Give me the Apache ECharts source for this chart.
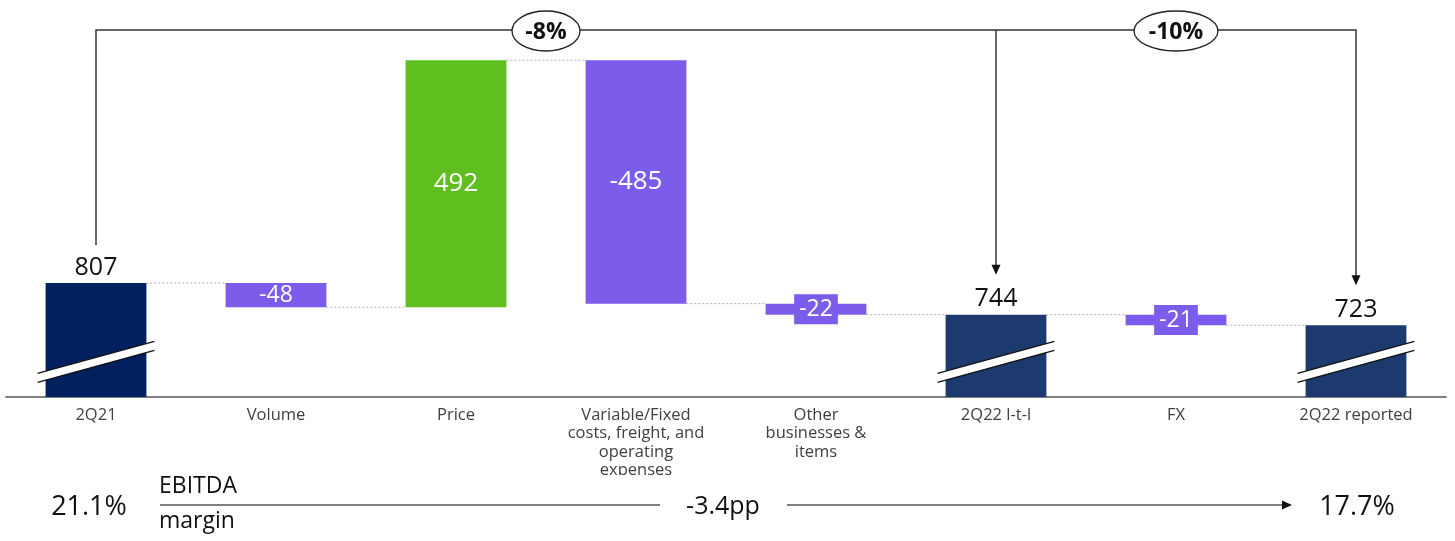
<!DOCTYPE html>
<html><head><meta charset="utf-8">
<script src="https://cdn.jsdelivr.net/npm/echarts@6/dist/echarts.min.js"></script>
<style>html,body{margin:0;padding:0;background:#fff}#c{width:1455px;height:541px}</style>
</head><body><div id="c"></div>
<script>
// ---- data ----
const categories = ['2Q21', 'Volume', 'Price', 'Variable/Fixed\ncosts, freight, and\noperating\nexpenses', 'Other\nbusinesses &\nitems', '2Q22 l-t-l', 'FX', '2Q22 reported'];
const values = [807, -48, 492, -485, -22, 744, -21, 723];
const isTotal = [true, false, false, false, false, true, false, true];
const changeLabels = ['-8%', '-10%'];
const marginStart = '21.1%';
const marginEnd = '17.7%';
const marginDelta = '-3.4pp';
const marginTitle = ['EBITDA', 'margin'];
const axisMin = 580, axisMax = 1371;
const breakValue = 650;

// ---- styles ----
const FONT = '"Open Sans", "Noto Sans", sans-serif';
const C_START = '#002060', C_TOTAL = '#1c3a6e', C_NEG = '#7b5ceb', C_POS = '#5fbf1f';
const BAR_RATIO = 0.56;

// ---- waterfall computation ----
const baseData = [], barData = [], ends = [];
let run = 0;
values.forEach((v, i) => {
  let fill, label;
  if (isTotal[i]) {
    baseData.push(0);
    fill = i === 0 ? C_START : C_TOTAL;
    label = { show: true, position: 'top', distance: 3, color: '#111', fontSize: 25, fontFamily: FONT, formatter: String(v) };
    barData.push({ value: v, itemStyle: { color: fill }, label });
    run = v;
  } else {
    const end = run + v;
    const low = Math.min(run, end);
    baseData.push(low);
    fill = v < 0 ? C_NEG : C_POS;
    const h = Math.abs(v);
    const small = h < 30;
    const big = h > 100;
    label = { show: true, position: 'inside', color: '#fff', fontSize: big ? 26 : 23, fontFamily: FONT, formatter: String(v) };
    if (small) { label.backgroundColor = C_NEG; label.padding = [4, 5, 3, 5]; }
    barData.push({ value: h, itemStyle: { color: fill }, label });
    run = end;
  }
  ends.push(run);
});

const connectorData = ends.slice(0, -1).map((lv, i) => [i, lv]);
const breakData = isTotal.map((t, i) => t ? [i, breakValue] : null).filter(Boolean);

const chart = echarts.init(document.getElementById('c'));
chart.setOption({
  animation: false,
  textStyle: { fontFamily: FONT },
  grid: { left: 6, right: 9, top: 0, bottom: 144, containLabel: false },
  xAxis: {
    type: 'category', data: categories,
    axisLine: { lineStyle: { color: '#7f7f7f', width: 2 } },
    axisTick: { show: false },
    axisLabel: { color: '#404040', fontSize: 16.5, lineHeight: 18.5, margin: 9, fontFamily: FONT, interval: 0 }
  },
  yAxis: { type: 'value', min: axisMin, max: axisMax, show: false, splitLine: { show: false } },
  series: [
    { type: 'bar', stack: 'w', data: baseData, itemStyle: { color: 'transparent' }, barWidth: (BAR_RATIO * 100) + '%', silent: true },
    { type: 'bar', stack: 'w', data: barData, barWidth: (BAR_RATIO * 100) + '%' },
    {
      type: 'custom', data: connectorData, z: 1, silent: true,
      renderItem: (params, api) => {
        const i = api.value(0), lv = api.value(1);
        const hw = api.size([1, 0])[0] * BAR_RATIO / 2;
        const p1 = api.coord([i, lv]), p2 = api.coord([i + 1, lv]);
        return { type: 'line', shape: { x1: p1[0] + hw, y1: p1[1], x2: p2[0] - hw, y2: p2[1] },
          style: { stroke: '#b0b0b0', lineWidth: 1, lineDash: [2, 2] } };
      }
    },
    {
      type: 'custom', data: breakData, z: 5, silent: true,
      renderItem: (params, api) => {
        const i = api.value(0), bv = api.value(1);
        const c = api.coord([i, bv]);
        const hw = api.size([1, 0])[0] * BAR_RATIO / 2 + 8;
        const dy = 16, gap = 4.5;
        return { type: 'group', children: [
          { type: 'polygon', shape: { points: [[c[0] - hw, c[1] + dy - gap], [c[0] + hw, c[1] - dy - gap], [c[0] + hw, c[1] - dy + gap], [c[0] - hw, c[1] + dy + gap]] }, style: { fill: '#fff' } },
          { type: 'line', shape: { x1: c[0] - hw, y1: c[1] + dy - gap, x2: c[0] + hw, y2: c[1] - dy - gap }, style: { stroke: '#111', lineWidth: 1.3 } },
          { type: 'line', shape: { x1: c[0] - hw, y1: c[1] + dy + gap, x2: c[0] + hw, y2: c[1] - dy + gap }, style: { stroke: '#111', lineWidth: 1.3 } }
        ] };
      }
    }
  ]
});

// ---- annotations ----
const px = (i, v) => chart.convertToPixel({ xAxisIndex: 0, yAxisIndex: 0 }, [i, v]);
const topY = 30;
const LINE = { stroke: '#333', lineWidth: 1.5 };
const pStart = px(0, values[0]);
const pMid = px(5, values[5]);
const pEnd = px(7, values[7]);
const startBottom = pStart[1] - 38, midTip = pMid[1] - 40, endTip = pEnd[1] - 40;
const arrowHead = (x, y) => ({ type: 'polygon', shape: { points: [[x, y], [x - 4.5, y - 10], [x + 4.5, y - 10]] }, style: { fill: '#111' } });
const e1x = (px(2, 0)[0] + px(3, 0)[0]) / 2;
const e2x = px(6, 0)[0];
const ellipse = (cx, rx, txt) => ({ type: 'group', children: [
  { type: 'ellipse', shape: { cx: cx, cy: 31, rx: rx, ry: 20 }, style: { fill: '#fff', stroke: '#222', lineWidth: 1.3 } },
  { type: 'text', x: cx, y: 32, style: { text: txt, fill: '#111', font: 'bold 23px ' + FONT, align: 'center', verticalAlign: 'middle' } }
] });
const bottomY = 505;
chart.setOption({ graphic: [
  { type: 'rect', shape: { x: 560, y: 475, width: 160, height: 16 }, style: { fill: '#fff' }, z: 100 },
  { type: 'polyline', shape: { points: [[pStart[0], startBottom], [pStart[0], topY], [pEnd[0], topY], [pEnd[0], endTip - 9]] }, style: Object.assign({ fill: null }, LINE) },
  { type: 'line', shape: { x1: pMid[0], y1: topY, x2: pMid[0], y2: midTip - 9 }, style: LINE },
  arrowHead(pMid[0], midTip), arrowHead(pEnd[0], endTip),
  ellipse(e1x, 34, changeLabels[0]), ellipse(e2x, 42, changeLabels[1]),
  { type: 'text', x: pStart[0] - 7, y: bottomY + 2, style: { text: marginStart, fill: '#111', font: '27px ' + FONT, align: 'center', verticalAlign: 'middle' } },
  { type: 'text', x: 159, y: 486, style: { text: marginTitle[0], fill: '#111', font: '23px ' + FONT, align: 'left', verticalAlign: 'middle' } },
  { type: 'text', x: 159, y: 521, style: { text: marginTitle[1], fill: '#111', font: '23px ' + FONT, align: 'left', verticalAlign: 'middle' } },
  { type: 'line', shape: { x1: 160, y1: bottomY, x2: 660, y2: bottomY }, style: { stroke: '#555', lineWidth: 1.5 } },
  { type: 'text', x: 723, y: bottomY + 2, style: { text: marginDelta, fill: '#111', font: '25px ' + FONT, align: 'center', verticalAlign: 'middle' } },
  { type: 'line', shape: { x1: 787, y1: bottomY, x2: 1283, y2: bottomY }, style: { stroke: '#555', lineWidth: 1.5 } },
  { type: 'polygon', shape: { points: [[1292, bottomY], [1282, bottomY - 4.5], [1282, bottomY + 4.5]] }, style: { fill: '#111' } },
  { type: 'text', x: pEnd[0] + 1, y: bottomY + 2, style: { text: marginEnd, fill: '#111', font: '27px ' + FONT, align: 'center', verticalAlign: 'middle' } }
] });
</script>
</body></html>
